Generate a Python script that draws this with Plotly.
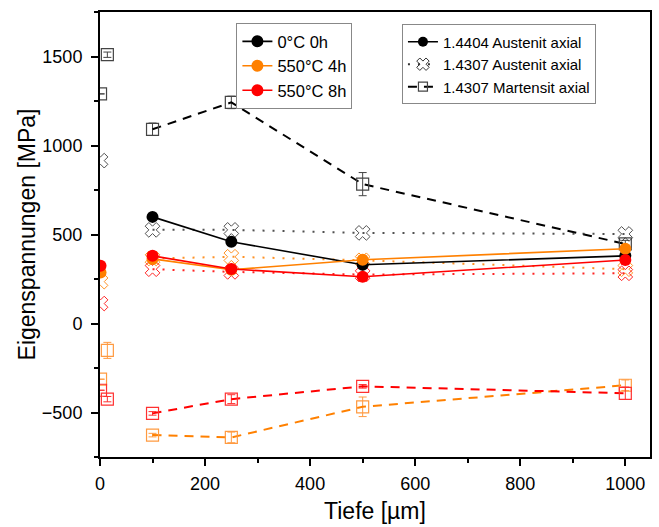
import plotly.graph_objects as go

# Depth positions (µm) of the profile measurements
depth = [100, 250, 500, 1000]

# 1.4404 Austenit axial (solid lines, filled circles)
aus4404_0h = [599, 459, 330, 380]
aus4404_4h = [363, 302, 358, 420]
aus4404_8h = [380, 306, 263, 357]

# 1.4307 Austenit axial (dotted lines, crossed markers)
aus4307_0h = [526, 526, 509, 503]
aus4307_4h = [365, 375, 355, 305]
aus4307_8h = [305, 290, 275, 282]

# 1.4307 Martensit axial (dashed lines, open squares) with error bars
mar4307_0h = [1091, 1242, 783, 447]
mar4307_0h_err = [35, 35, 65, 20]
mar4307_4h = [-627, -640, -468, -347]
mar4307_4h_err = [10, 30, 55, 30]
mar4307_8h = [-505, -425, -353, -392]
mar4307_8h_err = [10, 25, 10, 35]

# Near-surface measurements (not connected)
surf_depth_a = [1, 14]
surf_mar_0h = [1290, 1510]
surf_mar_0h_err = [0, 15]
surf_mar_4h = [-313, -151]
surf_mar_4h_err = [0, 45]
surf_mar_8h = [-375, -425]
surf_mar_8h_err = [0, 15]
surf_depth_b = [1]
surf_aus4307_0h = [915]
surf_aus4307_4h = [235]
surf_aus4307_8h = [112]
surf_aus4404_4h = [287]
surf_aus4404_8h = [325]

BLACK = "#000000"
ORANGE = "#FF8000"
RED = "#FF0000"
SQ_BLACK = "#444444"
SQ_ORANGE = "#FF9A40"
SQ_RED = "#FF3030"

DOT = "2px,8px"
DASH = "9px,7px"

fig = go.Figure()


def squares(x, y, err, color, linecolor, dash=True):
    fig.add_trace(go.Scatter(
        x=x, y=y, mode="lines+markers" if dash else "markers",
        line=dict(color=linecolor, width=2, dash=DASH),
        marker=dict(symbol="square-open", size=12, color=color, line=dict(width=1.2)),
        error_y=dict(type="data", array=err, color=color, thickness=1, width=4),
        showlegend=False,
    ))


def crosses(x, y, color, dotted=True):
    fig.add_trace(go.Scatter(
        x=x, y=y, mode="lines+markers" if dotted else "markers",
        line=dict(color=color, width=2, dash=DOT),
        marker=dict(symbol="x-open", size=13, color=color, line=dict(width=1, color=color)),
        opacity=0.85,
        showlegend=False,
    ))


# Martensit profiles
squares(depth, mar4307_0h, mar4307_0h_err, SQ_BLACK, BLACK)
squares(depth, mar4307_4h, mar4307_4h_err, SQ_ORANGE, ORANGE)
squares(depth, mar4307_8h, mar4307_8h_err, SQ_RED, RED)
squares(surf_depth_a, surf_mar_0h, surf_mar_0h_err, SQ_BLACK, BLACK, dash=False)
squares(surf_depth_a, surf_mar_4h, surf_mar_4h_err, SQ_ORANGE, ORANGE, dash=False)
squares(surf_depth_a, surf_mar_8h, surf_mar_8h_err, SQ_RED, RED, dash=False)

# 1.4307 Austenit profiles
crosses(depth, aus4307_0h, "#333333")
crosses(depth, aus4307_4h, ORANGE)
crosses(depth, aus4307_8h, RED)
crosses(surf_depth_b, surf_aus4307_0h, "#333333", dotted=False)
crosses(surf_depth_b, surf_aus4307_4h, ORANGE, dotted=False)
crosses(surf_depth_b, surf_aus4307_8h, RED, dotted=False)

# 1.4404 Austenit profiles (also the heat-treatment legend)
for name, vals, col in [("0°C 0h", aus4404_0h, BLACK),
                        ("550°C 4h", aus4404_4h, ORANGE),
                        ("550°C 8h", aus4404_8h, RED)]:
    fig.add_trace(go.Scatter(
        x=depth, y=vals, mode="lines+markers", name=name,
        line=dict(color=col, width=1.6),
        marker=dict(symbol="circle", size=12, color=col),
        legend="legend",
    ))
for vals, col in [(surf_aus4404_4h, ORANGE), (surf_aus4404_8h, RED)]:
    fig.add_trace(go.Scatter(
        x=surf_depth_b, y=vals, mode="markers",
        marker=dict(symbol="circle", size=12, color=col),
        showlegend=False,
    ))

# Material legend entries
fig.add_trace(go.Scatter(
    x=[None], y=[None], mode="lines+markers", name="1.4404 Austenit axial",
    line=dict(color=BLACK, width=1.6), marker=dict(symbol="circle", size=10, color=BLACK),
    legend="legend2",
))
fig.add_trace(go.Scatter(
    x=[None], y=[None], mode="lines+markers", name="1.4307 Austenit axial",
    line=dict(color="#333333", width=2, dash=DOT),
    marker=dict(symbol="x-open", size=11, color="#333333", line=dict(width=1)),
    legend="legend2",
))
fig.add_trace(go.Scatter(
    x=[None], y=[None], mode="lines+markers", name="1.4307 Martensit axial",
    line=dict(color=BLACK, width=2, dash=DASH),
    marker=dict(symbol="square-open", size=9, color=SQ_BLACK, line=dict(width=1.2)),
    legend="legend2",
))

FONT = "Liberation Sans, Arial, sans-serif"

fig.update_layout(
    width=659, height=527,
    margin=dict(l=100, r=7, t=12, b=69),
    plot_bgcolor="white", paper_bgcolor="white",
    font=dict(family=FONT, size=18, color="black"),
    legend=dict(
        x=0.248, y=0.975, xanchor="left", yanchor="top",
        bordercolor="#888888", borderwidth=1, bgcolor="white",
        font=dict(size=16.5), tracegroupgap=0, itemwidth=30,
    ),
    legend2=dict(
        x=0.549, y=0.972, xanchor="left", yanchor="top",
        bordercolor="#888888", borderwidth=1, bgcolor="white",
        font=dict(size=15), tracegroupgap=0, itemwidth=30,
    ),
)
fig.update_xaxes(
    range=[0, 1047], showgrid=False, zeroline=False,
    showline=True, linecolor="black", linewidth=2, mirror=True,
    ticks="outside", ticklen=7, tickwidth=1.5, tickcolor="black",
    tick0=0, dtick=200, ticklabelstandoff=2,
    minor=dict(ticks="outside", ticklen=4, tickwidth=1.5, tickcolor="black", dtick=100),
    title=dict(text="Tiefe [µm]", font=dict(size=23), standoff=10),
)
fig.update_yaxes(
    range=[-750, 1750], showgrid=False, zeroline=False,
    showline=True, linecolor="black", linewidth=2, mirror=True,
    ticks="outside", ticklen=7, tickwidth=1.5, tickcolor="black",
    tick0=0, dtick=500, ticklabelstandoff=5,
    minor=dict(ticks="outside", ticklen=4, tickwidth=1.5, tickcolor="black", dtick=250),
    title=dict(text="Eigenspannungen [MPa]", font=dict(size=23), standoff=0),
)

fig.write_html("out.html")
